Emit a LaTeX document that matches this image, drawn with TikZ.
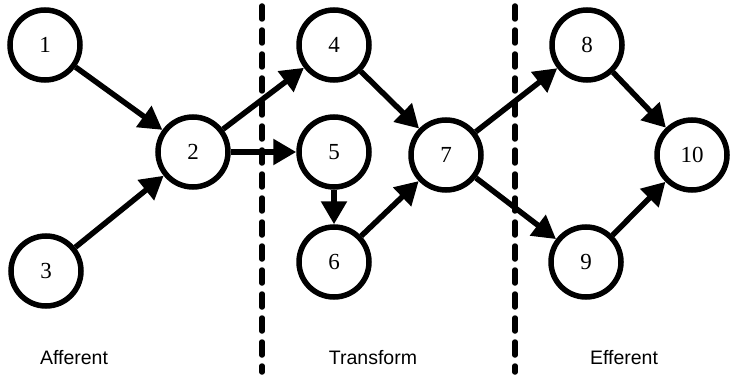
\documentclass[tikz,border=0pt]{standalone}
\usepackage{fontspec}
\setmainfont{Liberation Serif}
\newfontfamily\labelfont{Liberation Sans}
\usetikzlibrary{arrows.meta}

\begin{document}
\begin{tikzpicture}[x=1pt, y=-1pt,
            state/.style={draw, circle, line width=5.5pt, minimum size=70pt,
                    inner sep=0pt, font=\fontsize{23}{23}\selectfont},
            arrow/.style={-{Triangle[length=23pt,width=25pt]}, line width=5.5pt},
            divider/.style={line width=5.5pt, line cap=round, dash pattern=on 13pt off 11pt},
            stage/.style={font=\labelfont\fontsize{19.5}{20}\selectfont}
        ]
        \useasboundingbox (0,0) rectangle (730,377);

        \node[state] (n1) at (45,45) {1};
        \node[state] (n2) at (193,152) {2};
        \node[state] (n3) at (46,271) {3};
        \node[state] (n4) at (334,45) {4};
        \node[state] (n5) at (334,152) {5};
        \node[state] (n6) at (334,262) {6};
        \node[state] (n7) at (446,155) {7};
        \node[state] (n8) at (587,45) {8};
        \node[state] (n9) at (586,262) {9};
        \node[state] (n10) at (692,155) {10};

        \coordinate (d1top) at (262,6);
        \coordinate (d1bot) at (262,372);
        \coordinate (d2top) at (515,6);
        \coordinate (d2bot) at (515,372);
        \draw[divider] (d1top) -- (d1bot);
        \draw[divider] (d2top) -- (d2bot);

        \draw[arrow] (n1) -- (n2);
        \draw[arrow] (n3) -- (n2);
        \draw[arrow] (n2) -- (n4);
        \draw[arrow] (n2) -- (n5);
        \draw[arrow] (n5) -- (n6);
        \draw[arrow] (n4) -- (n7);
        \draw[arrow] (n6) -- (n7);
        \draw[arrow] (n7) -- (n8);
        \draw[arrow] (n7) -- (n9);
        \draw[arrow] (n8) -- (n10);
        \draw[arrow] (n9) -- (n10);

        \node[stage] (afferent) at (74,358) {Afferent};
        \node[stage] (transform) at (373,358) {Transform};
        \node[stage] (efferent) at (624,358) {Efferent};
    \end{tikzpicture}
\end{document}
